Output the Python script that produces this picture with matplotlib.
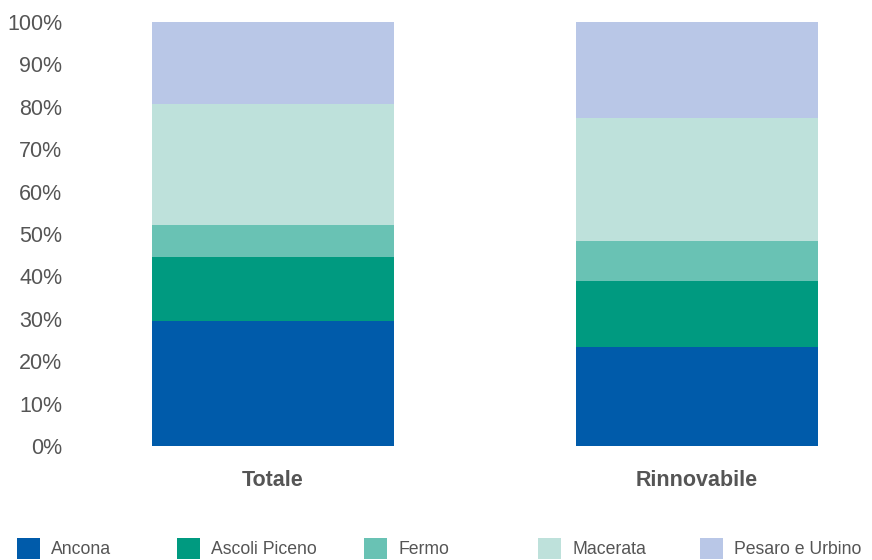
import matplotlib
matplotlib.use("Agg")
import matplotlib.pyplot as plt
from matplotlib.patches import Rectangle
import numpy as np

plt.rcParams['font.family'] = ['Liberation Sans', 'DejaVu Sans']

categories = ["Totale", "Rinnovabile"]
series_names = ["Ancona", "Ascoli Piceno", "Fermo", "Macerata", "Pesaro e Urbino"]
ancona = [29.4, 23.3]
ascoli_piceno = [15.1, 15.5]
fermo = [7.7, 9.5]
macerata = [28.5, 29.0]
pesaro_urbino = [19.3, 22.7]
tick_labels = ["0%", "10%", "20%", "30%", "40%", "50%", "60%", "70%", "80%", "90%", "100%"]

series = [ancona, ascoli_piceno, fermo, macerata, pesaro_urbino]
colors = ["#005BAA", "#009A80", "#69C2B4", "#BEE1DB", "#B9C7E7"]
text_color = "#555555"

W, H = 872, 560
fig = plt.figure(figsize=(W / 100, H / 100), dpi=100)
ax_left, ax_right, ax_bottom, ax_top = 70, 860, 446, 22
ax = fig.add_axes([ax_left / W, (H - ax_bottom) / H, (ax_right - ax_left) / W, (ax_bottom - ax_top) / H])

x = np.arange(len(categories))
bottom = np.zeros(len(categories))
for name, vals, c in zip(series_names, series, colors):
    ax.bar(x, vals, bottom=bottom, width=0.57, color=c, edgecolor="none", label=name)
    bottom += np.array(vals)

unit = 424.0
ax.set_xlim(-(273 - ax_left) / unit, 1 + (ax_right - 697) / unit)
ax.set_ylim(0, 100)
ax.set_yticks(np.arange(0, 101, 10))
ax.set_yticklabels(tick_labels)
ax.set_xticks(x)
ax.set_xticklabels(categories, fontweight="bold")
ax.tick_params(axis="y", length=0, pad=5.5, labelsize=15.5, labelcolor=text_color)
ax.tick_params(axis="x", length=0, pad=17, labelsize=15.5, labelcolor=text_color)
for s in ax.spines.values():
    s.set_visible(False)

# legend (manual placement)
patch_x = [17, 177, 364, 538, 700]
for px, name, c in zip(patch_x, series_names, colors):
    fig.add_artist(Rectangle((px / W, 1 / H), 23 / W, 21 / H, transform=fig.transFigure,
                             facecolor=c, edgecolor="none"))
    fig.text((px + 34) / W, (H - 549) / H, name, fontsize=12.7, color=text_color,
             va="center", ha="left")

fig.savefig("out.png", dpi=100)
